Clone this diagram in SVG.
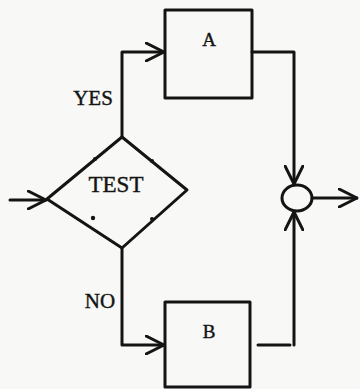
<svg xmlns="http://www.w3.org/2000/svg" width="360" height="389" viewBox="0 0 360 389">
  <style>
    .ln { fill: none; stroke: #141414; stroke-width: 3; stroke-linejoin: round; stroke-linecap: round; }
    .lbl { font-family: "Liberation Serif", "DejaVu Serif", serif; fill: #141414; stroke: #141414; stroke-width: 0.4; text-anchor: middle; }
    .dot { fill: #141414; }
  </style>
  <defs>
    <marker id="arr" viewBox="0 0 20 20" refX="19" refY="10" markerWidth="20" markerHeight="20" markerUnits="userSpaceOnUse" orient="auto">
      <path d="M1,1 L19,10 L1,19" fill="none" stroke="#141414" stroke-width="3" stroke-linecap="round" stroke-linejoin="round"/>
    </marker>
  </defs>
  <rect width="360" height="389" fill="#f8f8f6"/>

  <g id="connectors">
    <path class="ln" d="M10,200 L46,200" marker-end="url(#arr)"/>
    <path class="ln" d="M122,137 L122,52 L164,52" marker-end="url(#arr)"/>
    <path class="ln" d="M122,248 L122,345 L164,345" marker-end="url(#arr)"/>
    <path class="ln" d="M252,52 L294,52 L294,184" marker-end="url(#arr)"/>
    <path class="ln" d="M258,345 L290,345"/>
    <path class="ln" d="M294,345 L294,212" marker-end="url(#arr)"/>
    <path class="ln" d="M312,198 L357,198" marker-end="url(#arr)"/>
  </g>

  <g id="test">
    <path class="ln" d="M122,137 L187,190 L122,248 L47,199 Z"/>
    <circle class="dot" cx="93" cy="218" r="2.2"/>
    <circle class="dot" cx="95" cy="159" r="2"/>
    <circle class="dot" cx="152" cy="161" r="2"/>
    <circle class="dot" cx="152" cy="219" r="2"/>
    <text class="lbl" x="116" y="192" font-size="23">TEST</text>
  </g>

  <g id="yes-label">
    <text class="lbl" x="93" y="105" font-size="21">YES</text>
  </g>
  <g id="no-label">
    <text class="lbl" x="100" y="308" font-size="21">NO</text>
  </g>

  <g id="box-a">
    <rect class="ln" x="165" y="10" width="87" height="88"/>
    <text class="lbl" x="209" y="46" font-size="19">A</text>
  </g>

  <g id="box-b">
    <rect class="ln" x="165" y="302" width="85" height="85"/>
    <text class="lbl" x="209" y="338" font-size="19">B</text>
  </g>

  <g id="junction">
    <ellipse class="ln" cx="297" cy="198" rx="15" ry="13" stroke-width="3.5"/>
  </g>
</svg>
